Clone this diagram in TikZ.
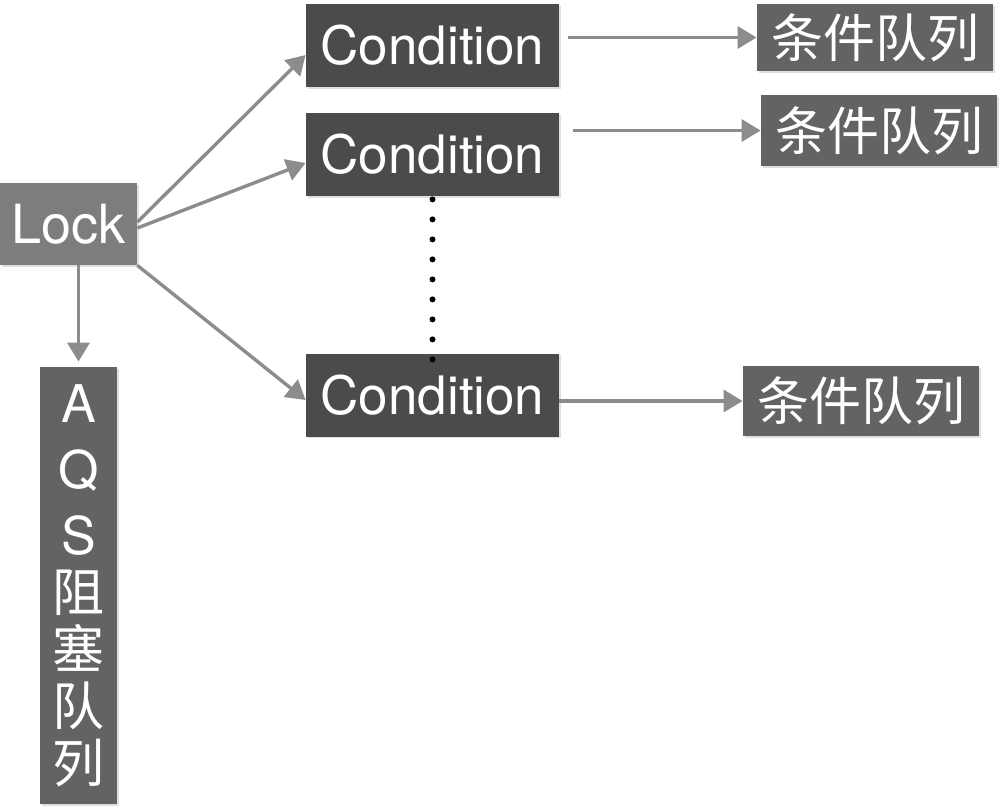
\documentclass[tikz,border=0pt]{standalone}
\usepackage{fontspec}
\setmainfont{TeX Gyre Heros}
\newfontfamily\cjk{Noto Sans CJK SC}
\usetikzlibrary{arrows.meta,shadows}
\definecolor{lockgray}{HTML}{7D7D7D}
\definecolor{condgray}{HTML}{4B4B4B}
\definecolor{queuegray}{HTML}{636363}
\definecolor{arrowgray}{HTML}{8C8C8C}
\tikzset{box/.style={fill=#1, text=white, inner sep=0pt, drop shadow={shadow xshift=0.8pt, shadow yshift=-0.8pt, opacity=0.25}},
  cond/.style={box=condgray, minimum width=126.5pt, minimum height=41.5pt, font=\fontsize{26.5}{30}\selectfont},
  queue/.style={box=queuegray, minimum width=118pt, minimum height=35pt, font=\cjk\fontsize{26}{30}\selectfont},
  arr/.style={arrowgray, line width=1.7pt, -{Triangle[length=9.5pt,width=11pt]}}}

\begin{document}
\begin{tikzpicture}[x=0.5pt,y=-0.5pt]
   \useasboundingbox (0,0) rectangle (1000,811);
   \node[box=lockgray, minimum width=68.5pt, minimum height=41pt, font=\fontsize{27}{30}\selectfont] (lock) at (68.5,224) {Lock};
   \node[cond] (c1) at (432.5,45.5) {Condition};
   \node[cond] (c2) at (432.5,154.5) {Condition};
   \node[cond] (c3) at (432.5,395) {Condition};
   \node[queue, minimum height=33.5pt] (q1) at (875,37.5) {条件队列};
   \node[queue, minimum height=35.5pt] (q2) at (879,130.5) {条件队列};
   \node[queue] (q3) at (861,401) {条件队列};
   \node[box=queuegray, minimum width=38.5pt, minimum height=218.5pt, align=center, font=\fontsize{26}{28.5}\selectfont] (aqs) at (78.5,585.5)
     {A\\[4.5pt]Q\\[4.5pt]S\\{\cjk 阻}\\{\cjk 塞}\\{\cjk 队}\\{\cjk 列}};
   \draw[arr] ([yshift=1pt]lock.east) -- ([yshift=-4.75pt]c1.west);
   \draw[arr] ([yshift=-2pt]lock.east) -- ([yshift=-4.25pt]c2.west);
   \draw[arr] (lock.south east) -- ([yshift=-2.5pt]c3.west);
   \draw[arr, shorten >=2.5pt] (lock.south -| aqs.north) -- (aqs.north);
   \draw[arr, shorten <=4.5pt] (q1.west -| c1.east) -- (q1.west);
   \draw[arr, shorten <=7pt] (q2.west -| c2.east) -- (q2.west);
   \draw[arr] (q3.west -| c3.east) -- (q3.west);
   \draw[black, line width=3pt, line cap=round, dash pattern=on 0pt off 10pt] ([yshift=-1.5pt]c2.south) -- ([yshift=-3.5pt]c3.north);
\end{tikzpicture}
\end{document}
